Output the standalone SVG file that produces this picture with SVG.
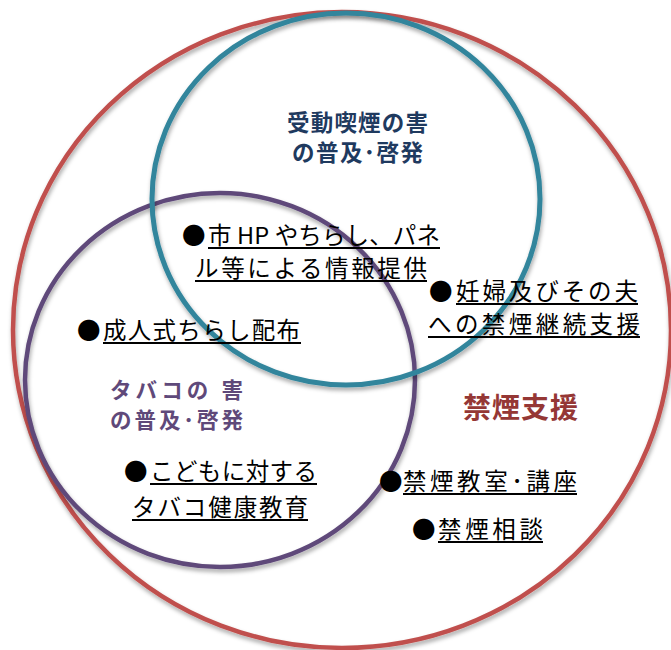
<svg xmlns="http://www.w3.org/2000/svg" width="671" height="650" viewBox="0 0 671 650">
<defs>
<filter id="sh" x="-10%" y="-10%" width="120%" height="120%">
<feDropShadow dx="1" dy="3" stdDeviation="2" flood-color="#000" flood-opacity="0.35"/>
</filter>
<style>
.ring{fill:none;filter:url(#sh)}
.body{font-family:"Noto Sans CJK JP","Noto Sans CJK SC",sans-serif;font-size:23.5px;fill:#000}
.head{font-family:"Noto Sans CJK JP","Noto Sans CJK SC",sans-serif;font-weight:bold}
.ul{stroke:#000;stroke-width:2}
</style>
</defs>
<rect width="671" height="650" fill="#fff"/>

<g id="circle-support">
<ellipse class="ring" cx="342" cy="330" rx="329" ry="318" stroke="#C0504D" stroke-width="4.5"/>
</g>
<g id="circle-tobacco">
<ellipse class="ring" cx="220" cy="380" rx="195" ry="187" stroke="#5F497A" stroke-width="4.5"/>
</g>
<g id="circle-passive">
<ellipse class="ring" cx="346" cy="199" rx="194" ry="186" stroke="#31859C" stroke-width="5"/>
</g>

<g id="label-passive">
<text class="head" x="357.5" y="131" font-size="22.5" fill="#1F3A5F" text-anchor="middle" textLength="141" lengthAdjust="spacing">受動喫煙の害</text>
<text class="head" x="357.5" y="161" font-size="22.5" fill="#1F3A5F" text-anchor="middle" textLength="131" lengthAdjust="spacing">の普及･啓発</text>
</g>

<g id="label-tobacco">
<text class="head" x="110" y="398" font-size="21.5" fill="#5F497A" textLength="133" lengthAdjust="spacing">タバコの 害</text>
<text class="head" x="110" y="428" font-size="21.5" fill="#5F497A" textLength="133" lengthAdjust="spacing">の普及･啓発</text>
</g>

<g id="label-support">
<text class="head" x="463" y="418" font-size="28" fill="#953735" textLength="115" lengthAdjust="spacing">禁煙支援</text>
</g>

<g id="item-hp">
<text class="body" x="182" y="243.5">●</text>
<text class="body" x="208" y="243.5" textLength="232" lengthAdjust="spacing">市 HP やちらし、パネ</text>
<text class="body" x="195" y="276.5" textLength="232" lengthAdjust="spacing">ル等による情報提供</text>
<line class="ul" x1="208" y1="248" x2="440" y2="248"/>
<line class="ul" x1="195" y1="281" x2="427" y2="281"/>
</g>

<g id="item-pregnant">
<text class="body" x="429" y="299.5">●</text>
<text class="body" x="456" y="299.5" textLength="182" lengthAdjust="spacing">妊婦及びその夫</text>
<text class="body" x="428" y="332.5" textLength="212" lengthAdjust="spacing">への禁煙継続支援</text>
<line class="ul" x1="456" y1="304" x2="638" y2="304"/>
<line class="ul" x1="428" y1="337" x2="640" y2="337"/>
</g>

<g id="item-seijin">
<text class="body" x="77" y="338.5">●</text>
<text class="body" x="103" y="338.5" textLength="197" lengthAdjust="spacing">成人式ちらし配布</text>
<line class="ul" x1="103" y1="343" x2="301" y2="343"/>
</g>

<g id="item-children">
<text class="body" x="124" y="479.5">●</text>
<text class="body" x="150" y="479.5" textLength="167" lengthAdjust="spacing">こどもに対する</text>
<text class="body" x="132" y="515.5" textLength="176" lengthAdjust="spacing">タバコ健康教育</text>
<line class="ul" x1="150" y1="484" x2="317" y2="484"/>
<line class="ul" x1="132" y1="520" x2="308" y2="520"/>
</g>

<g id="item-class">
<text class="body" x="379" y="489.5">●</text>
<text class="body" x="403" y="489.5" textLength="174" lengthAdjust="spacing">禁煙教室･講座</text>
<line class="ul" x1="403" y1="494" x2="577" y2="494"/>
</g>

<g id="item-consult">
<text class="body" x="412" y="537.5">●</text>
<text class="body" x="438" y="537.5" textLength="105" lengthAdjust="spacing">禁煙相談</text>
<line class="ul" x1="438" y1="542" x2="543" y2="542"/>
</g>
</svg>
